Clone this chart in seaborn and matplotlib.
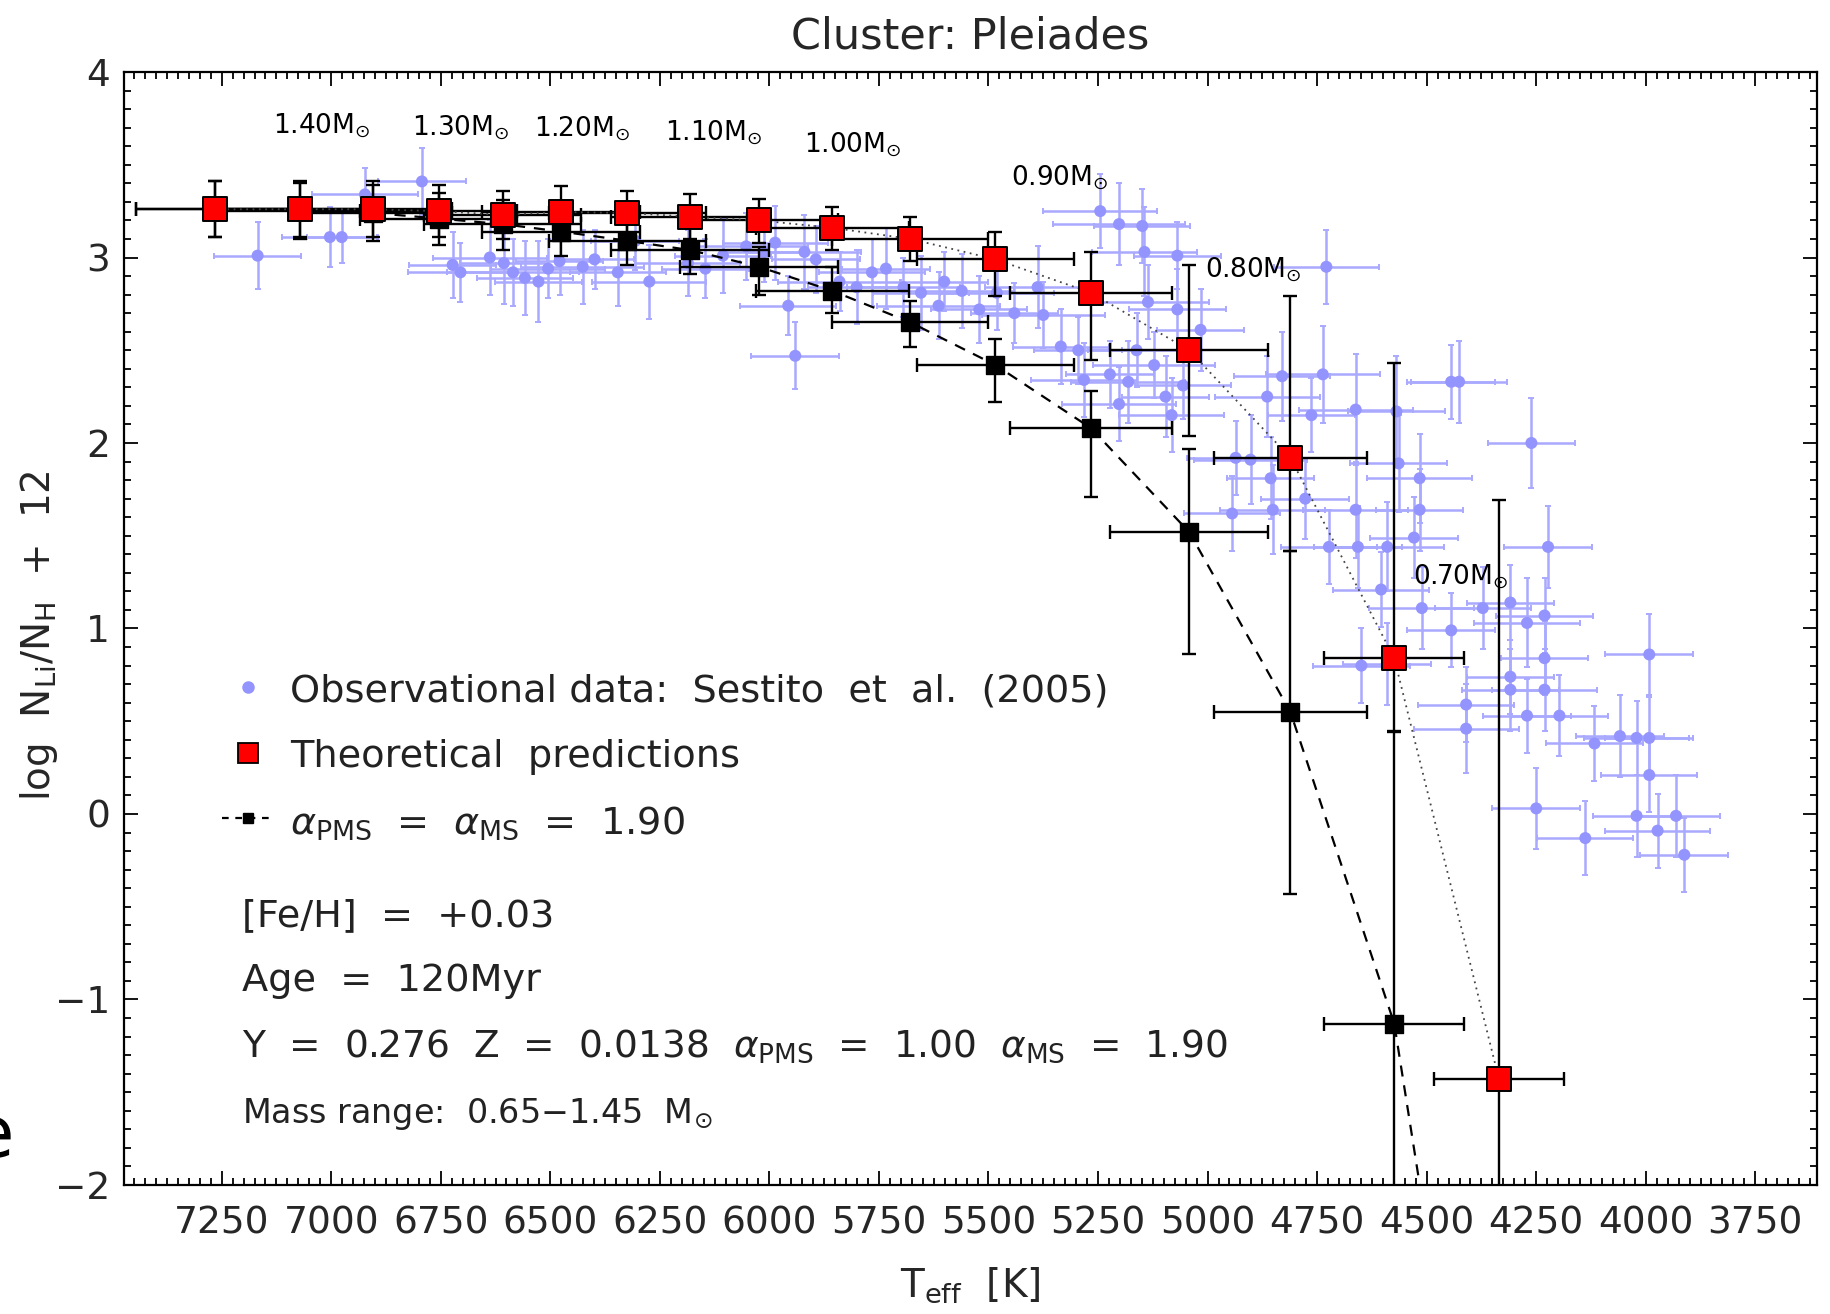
import matplotlib
matplotlib.use("Agg")
import matplotlib.pyplot as plt
import numpy as np
import pandas as pd
import seaborn as sns
from matplotlib.lines import Line2D
from matplotlib.ticker import MultipleLocator

# ---- observational data (Sestito et al. 2005) ----
obs_teff = [7168, 7003, 6976, 6923, 6793, 6723, 6705, 6638, 6606, 6585,
            6558, 6527, 6505, 6479, 6426, 6399, 6346, 6306, 6274, 6186,
            6146, 6106, 6053, 6013, 5987, 5957, 5941, 5920, 5894, 5840,
            5801, 5766, 5734, 5694, 5654, 5614, 5601, 5561, 5521, 5481,
            5441, 5388, 5375, 5335, 5295, 5245, 5202, 5149, 5144, 5069,
            5136, 5069, 5282, 5223, 5181, 5162, 5122, 5096, 5082, 5056,
            5202, 5016, 4729, 4830, 4737, 4763, 4864, 4936, 4902, 4856,
            4944, 4851, 4777, 4723, 4662, 4657, 4662, 4569, 4516, 4516,
            4564, 4590, 4529, 4604, 4511, 4444, 4444, 4426, 4261, 4372,
            4309, 4271, 4231, 4223, 4649, 4590, 4410, 4410, 4309, 4309,
            4231, 4231, 4271, 4197, 3992, 4117, 4059, 4021, 3992, 3992,
            4250, 4138, 4021, 3973, 3931, 3912]
obs_logn = [3.01, 3.11, 3.11, 3.34, 3.41, 2.96, 2.92, 3.00, 2.97, 2.92,
            2.89, 2.87, 2.94, 2.98, 2.95, 2.99, 2.92, 3.09, 2.87, 2.97,
            2.94, 3.01, 3.06, 3.03, 3.08, 2.74, 2.47, 3.03, 2.99, 2.87,
            2.84, 2.92, 2.94, 2.84, 2.81, 2.74, 2.87, 2.82, 2.72, 2.81,
            2.70, 2.84, 2.69, 2.52, 2.50, 3.25, 3.18, 3.17, 3.03, 3.01,
            2.76, 2.72, 2.34, 2.37, 2.33, 2.50, 2.42, 2.25, 2.15, 2.31,
            2.21, 2.61, 2.95, 2.36, 2.37, 2.15, 2.25, 1.92, 1.91, 1.81,
            1.62, 1.64, 1.70, 1.44, 1.64, 1.44, 2.18, 2.17, 1.81, 1.64,
            1.89, 1.44, 1.49, 1.21, 1.11, 0.99, 2.33, 2.33, 2.00, 1.11,
            1.14, 1.03, 1.07, 1.44, 0.80, 0.81, 0.59, 0.46, 0.74, 0.67,
            0.84, 0.67, 0.53, 0.53, 0.86, 0.38, 0.42, 0.41, 0.41, 0.21,
            0.03, -0.13, -0.01, -0.09, -0.01, -0.22]
obs_teff_err = [100, 110, 80, 120, 100, 100, 120, 130, 100, 150,
                110, 100, 130, 100, 140, 90, 110, 100, 130, 120,
                100, 110, 140, 100, 120, 110, 100, 130, 100, 140,
                110, 120, 100, 130, 110, 140, 100, 120, 110, 130,
                100, 120, 140, 110, 100, 130, 150, 110, 120, 100,
                140, 110, 120, 100, 130, 110, 140, 100, 120, 110,
                130, 100, 120, 110, 130, 100, 120, 110, 130, 100,
                110, 120, 100, 110, 120, 100, 130, 110, 120, 100,
                110, 130, 100, 110, 120, 100, 100, 110, 100, 110,
                100, 120, 110, 100, 110, 100, 110, 120, 100, 110,
                100, 120, 100, 110, 100, 110, 100, 120, 100, 110,
                100, 110, 100, 120, 100, 100]
obs_logn_err = [0.18, 0.16, 0.14, 0.14, 0.18, 0.18, 0.16, 0.20, 0.22, 0.18,
                0.20, 0.22, 0.16, 0.18, 0.20, 0.16, 0.18, 0.16, 0.20, 0.18,
                0.16, 0.20, 0.18, 0.16, 0.20, 0.16, 0.18, 0.20, 0.18, 0.16,
                0.20, 0.18, 0.22, 0.16, 0.20, 0.18, 0.16, 0.20, 0.18, 0.20,
                0.16, 0.22, 0.18, 0.20, 0.18, 0.20, 0.22, 0.20, 0.24, 0.18,
                0.20, 0.22, 0.20, 0.18, 0.22, 0.20, 0.18, 0.22, 0.20, 0.18,
                0.20, 0.22, 0.20, 0.24, 0.26, 0.20, 0.22, 0.20, 0.24, 0.22,
                0.20, 0.24, 0.22, 0.20, 0.26, 0.22, 0.30, 0.30, 0.24, 0.22,
                0.26, 0.24, 0.22, 0.20, 0.22, 0.20, 0.20, 0.22, 0.24, 0.22,
                0.20, 0.24, 0.20, 0.22, 0.20, 0.22, 0.20, 0.24, 0.20, 0.22,
                0.20, 0.22, 0.20, 0.22, 0.22, 0.20, 0.22, 0.20, 0.22, 0.20,
                0.22, 0.20, 0.22, 0.20, 0.22, 0.20]

# ---- theoretical predictions (one per stellar mass) ----
model_teff = [7266, 7072, 6904, 6755, 6609, 6476, 6324, 6181, 6024, 5856,
              5678, 5484, 5266, 5042, 4811, 4574, 4335]
model_teff_err = [180, 180, 180, 180, 180, 180, 180, 180, 180, 175,
                  178, 180, 185, 181, 175, 160, 148]
# alpha_PMS = 1.00, alpha_MS = 1.90 (red squares, dotted)
red_logn = [3.26, 3.26, 3.26, 3.25, 3.23, 3.245, 3.24, 3.22, 3.20, 3.16,
            3.10, 2.99, 2.81, 2.50, 1.92, 0.84, -1.43]
red_err_lo = [0.15, 0.15, 0.15, 0.14, 0.13, 0.14, 0.12, 0.12, 0.12, 0.12,
              0.12, 0.20, 0.36, 0.46, 0.50, 0.40, 3.20]
red_err_hi = [0.15, 0.15, 0.15, 0.14, 0.13, 0.14, 0.12, 0.12, 0.115, 0.11,
              0.12, 0.15, 0.22, 0.46, 0.87, 1.59, 3.12]
# alpha_PMS = alpha_MS = 1.90 (black squares, dashed)
black_logn = [3.26, 3.25, 3.24, 3.21, 3.18, 3.14, 3.09, 3.04, 2.95, 2.82,
              2.65, 2.42, 2.08, 1.52, 0.55, -1.13, -4.70]
black_err_lo = [0.15, 0.15, 0.15, 0.14, 0.14, 0.13, 0.13, 0.13, 0.15, 0.12,
                0.13, 0.20, 0.37, 0.66, 0.98, 1.60, 0.50]
black_err_hi = [0.15, 0.15, 0.15, 0.14, 0.13, 0.13, 0.12, 0.12, 0.105, 0.13,
                0.115, 0.14, 0.20, 0.45, 0.87, 1.58, 0.50]

# ---- mass labels ----
mass_labels = ["1.40", "1.30", "1.20", "1.10", "1.00", "0.90", "0.80", "0.70"]
mass_label_teff = [7133, 6816, 6537, 6239, 5920, 5449, 5005, 4532]
mass_label_logn = [3.667, 3.66, 3.654, 3.63, 3.566, 3.39, 2.893, 1.239]

OBS_COLOR = "#9494ff"
OBS_ERR_COLOR = "#a9a9ff"

sns.set_theme(style="ticks")
plt.rcParams["font.family"] = ["DejaVu Sans"]
plt.rcParams["mathtext.fontset"] = "dejavusans"
plt.rcParams["axes.linewidth"] = 1.6
plt.rcParams["axes.edgecolor"] = "black"

fig = plt.figure(figsize=(18.31, 13.14), dpi=100)
ax = fig.add_axes([0.0677, 0.0982, 0.9247, 0.8470])

obs = pd.DataFrame({"teff": obs_teff, "logn": obs_logn})
model = pd.DataFrame({"teff": model_teff, "red": red_logn, "black": black_logn})

# observational points
ax.errorbar(obs_teff, obs_logn, xerr=obs_teff_err, yerr=obs_logn_err,
            fmt="none", ecolor=OBS_ERR_COLOR, elinewidth=1.8,
            capsize=2.5, capthick=1.4, zorder=1)
sns.scatterplot(data=obs, x="teff", y="logn", ax=ax, color=OBS_COLOR,
                s=75, edgecolor="none", zorder=2, legend=False)

# alpha_PMS = alpha_MS = 1.90 model
ax.errorbar(model_teff, black_logn, xerr=model_teff_err,
            yerr=[black_err_lo, black_err_hi], fmt="none", ecolor="black",
            elinewidth=1.7, capsize=5, capthick=1.7, zorder=3)
sns.lineplot(data=model, x="teff", y="black", ax=ax, sort=False,
             estimator=None, color="black", linestyle=(0, (5, 4)),
             linewidth=1.6, zorder=3)
sns.scatterplot(data=model, x="teff", y="black", ax=ax, marker="s",
                s=150, color="black", edgecolor="black", zorder=4, legend=False)

# alpha_PMS = 1.00 / alpha_MS = 1.90 model
ax.errorbar(model_teff, red_logn, xerr=model_teff_err,
            yerr=[red_err_lo, red_err_hi], fmt="none", ecolor="black",
            elinewidth=1.7, capsize=5, capthick=1.7, zorder=5)
sns.lineplot(data=model, x="teff", y="red", ax=ax, sort=False,
             estimator=None, color="#444444", linestyle=(0, (1, 2.5)),
             linewidth=1.3, zorder=5)
sns.scatterplot(data=model, x="teff", y="red", ax=ax, marker="s",
                s=280, color="#ff0000", edgecolor="black", linewidth=1.4,
                zorder=6, legend=False)

for lab, t, v in zip(mass_labels, mass_label_teff, mass_label_logn):
    ax.text(t, v, lab + r"M$_{\odot}$", fontsize=19, ha="left",
            va="baseline", color="black", zorder=7)

# axes
ax.set_xlim(7473, 3609)
ax.set_ylim(-2.0, 4.0)
ax.xaxis.set_major_locator(MultipleLocator(250))
ax.xaxis.set_minor_locator(MultipleLocator(25))
ax.yaxis.set_major_locator(MultipleLocator(1))
ax.yaxis.set_minor_locator(MultipleLocator(0.1))
ax.tick_params(which="both", direction="in", top=True, right=True,
               color="black", width=1.3)
ax.tick_params(which="major", length=10)
ax.tick_params(which="minor", length=5)
ax.tick_params(axis="x", labelsize=27, pad=15)
ax.tick_params(axis="y", labelsize=27, pad=10)
ax.set_yticks([-2, -1, 0, 1, 2, 3, 4])
ax.set_yticklabels(["\u22122", "\u22121", "0", "1", "2", "3", "4"])
for s in ax.spines.values():
    s.set_visible(True)
    s.set_linewidth(1.6)
    s.set_color("black")

ax.set_xlabel(r"T$_{\rm eff}$  [K]", fontsize=28)
ax.xaxis.set_label_coords(0.5, -0.072)
ax.set_ylabel(r"log  N$_{\rm Li}$/N$_{\rm H}$  +  12", fontsize=28)
ax.yaxis.set_label_coords(-0.038, 0.494)
ax.set_title("Cluster: Pleiades", fontsize=31, pad=17)

# legend (drawn by hand, as in the original)
tr = ax.transAxes
ax.add_line(Line2D([0.0731], [0.447], transform=tr, marker="o", markersize=8,
                   color=OBS_COLOR, linestyle="none", clip_on=False))
ax.add_line(Line2D([0.0731], [0.388], transform=tr, marker="s", markersize=14,
                   markerfacecolor="#ff0000", markeredgecolor="black",
                   markeredgewidth=1.3, linestyle="none", clip_on=False))
ax.add_line(Line2D([0.0579, 0.089], [0.3295, 0.3295], transform=tr,
                   color="black", linestyle=(0, (3, 3)), linewidth=1.6,
                   clip_on=False))
ax.add_line(Line2D([0.0731], [0.3295], transform=tr, marker="s", markersize=7,
                   color="black", linestyle="none", clip_on=False))

txt_kw = dict(transform=tr, ha="left", va="baseline", color="#222222")
ax.text(0.0979, 0.4344, "Observational data:  Sestito  et  al.  (2005)",
        fontsize=27.5, **txt_kw)
ax.text(0.0979, 0.3757, "Theoretical  predictions", fontsize=27.5, **txt_kw)
ax.text(0.0979, 0.3158, r"$\alpha_{\rm PMS}$  =  $\alpha_{\rm MS}$  =  1.90",
        fontsize=27.5, **txt_kw)
ax.text(0.0697, 0.233, "[Fe/H]  =  +0.03", fontsize=27.5, **txt_kw)
ax.text(0.0697, 0.1742, "Age  =  120Myr", fontsize=27.5, **txt_kw)
ax.text(0.0697, 0.1154,
        r"Y  =  0.276  Z  =  0.0138  $\alpha_{\rm PMS}$  =  1.00  $\alpha_{\rm MS}$  =  1.90",
        fontsize=27, **txt_kw)
ax.text(0.0697, 0.0556, "Mass range:  0.65\u22121.45  M$_{\\odot}$",
        fontsize=24, **txt_kw)

# cropped letter from the neighbouring slide
fig.text(-0.0164, 0.1195, "e", fontsize=52, ha="left", va="baseline",
         color="black")

fig.savefig("out.png", dpi=100)
